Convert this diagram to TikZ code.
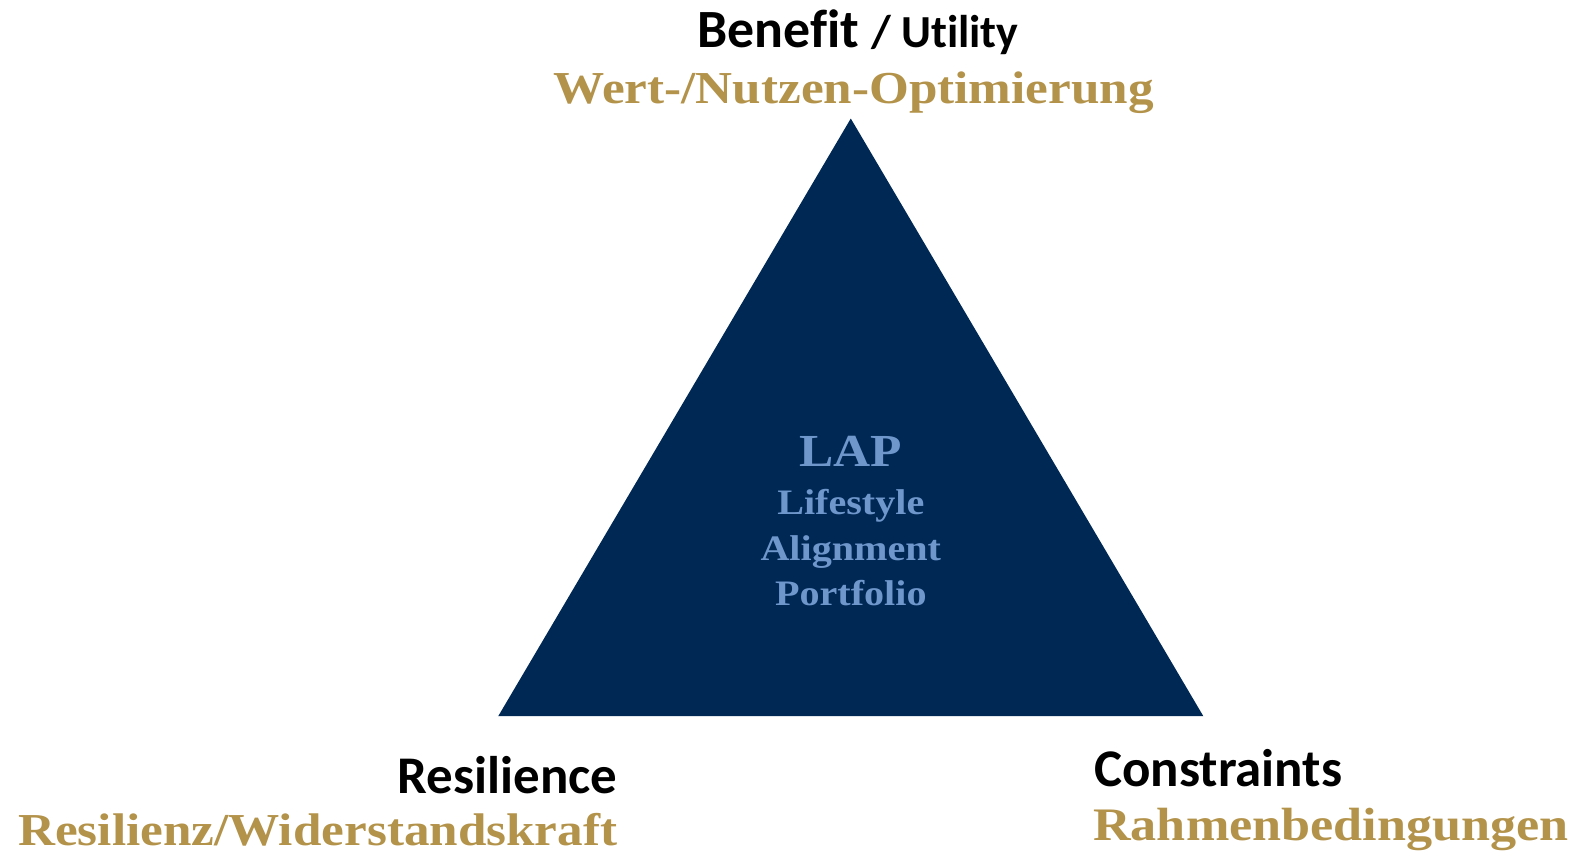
\documentclass[tikz,border=0pt]{standalone}
\usepackage{fontspec}
\setmainfont{Liberation Serif}
\newfontfamily\carlitofont[Ligatures={NoCommon}]{Carlito}
\newfontfamily\goldfont[FakeStretch=1.12]{Liberation Serif}
\definecolor{navy}{HTML}{002855}
\definecolor{gold}{HTML}{B3924A}
\definecolor{lblue}{HTML}{7097CC}
\begin{document}
\begin{tikzpicture}[x=0.02cm,y=-0.02cm,
  head/.style={inner sep=0pt,text=black,font=\carlitofont\bfseries\fontsize{30}{34}\selectfont},
  sub/.style={inner sep=0pt,text=gold,font=\goldfont\bfseries\fontsize{25.9}{30}\selectfont},
  inner/.style={inner sep=0pt,text=lblue,font=\goldfont\bfseries\fontsize{20.3}{24}\selectfont}]
\useasboundingbox (0,0) rectangle (1568,849);
\coordinate (top) at (847,118);
\coordinate (bl) at (496,713);
\coordinate (br) at (1198,713);
\fill[navy] (top) -- (bl) -- (br) -- cycle;
\node[head,anchor=base,font=\carlitofont\bfseries\fontsize{30.5}{34}\selectfont] (benefit) at (854,47) {Benefit {\fontsize{26}{30}\selectfont/ Utility}};
\node[sub,anchor=base] (wert) at (850,103) {Wert-/Nutzen-Optimierung};
\node[inner,anchor=base,font=\goldfont\bfseries\fontsize{26}{30}\selectfont] (lap) at (847,464) {LAP};
\node[inner,anchor=base] (l1) at (847,512) {Lifestyle};
\node[inner,anchor=base] (l2) at (847,558) {Alignment};
\node[inner,anchor=base] (l3) at (847,603) {Portfolio};
\node[head,anchor=base east] (res) at (615,790) {Resilience};
\node[sub,anchor=base east] (resde) at (615,842) {Resilienz/Widerstandskraft};
\node[head,anchor=base west] (con) at (1089,783) {Constraints};
\node[sub,anchor=base west,font=\goldfont\bfseries\fontsize{26.4}{30}\selectfont] (conde) at (1088,837) {Rahmenbedingungen};
\end{tikzpicture}
\end{document}
